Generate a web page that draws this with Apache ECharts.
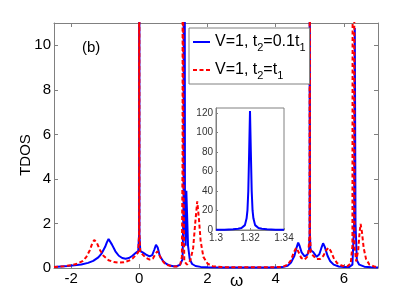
<!DOCTYPE html>
<html><head><meta charset="utf-8">
<script src="https://cdn.jsdelivr.net/npm/echarts@6/dist/echarts.min.js"></script>
<style>html,body{margin:0;padding:0;background:#fff}#c{width:417px;height:302px}</style>
</head><body><div id="c"></div>
<script>
// Main plot: blue solid (V=1, t2=0.1t1)
const blueX = [-2.5,-2.3,-2.1,-1.9,-1.7,-1.5,-1.35,-1.2,-1.1,-1.0,-0.95,-0.9,-0.85,-0.8,-0.7,-0.6,-0.5,-0.4,-0.3,-0.2,-0.1,-0.03,-0.005,0,0.005,0.03,0.1,0.2,0.3,0.38,0.44,0.49,0.54,0.6,0.7,0.8,0.9,1.0,1.1,1.2,1.27,1.3,1.315,1.32,1.325,1.34,1.36,1.38,1.4,1.43,1.48,1.55,1.65,1.8,2.0,2.5,3.0,3.5,4.0,4.2,4.35,4.45,4.55,4.62,4.66,4.7,4.76,4.85,4.93,4.98,4.995,5.0,5.005,5.02,5.1,5.2,5.28,5.34,5.39,5.44,5.52,5.6,5.7,5.85,6.0,6.15,6.25,6.3,6.32,6.34,6.38,6.45,6.6,6.8,7.0];
const blueY = [0.05,0.07,0.09,0.12,0.16,0.23,0.32,0.48,0.66,0.95,1.15,1.3,1.22,1.05,0.75,0.55,0.45,0.42,0.45,0.55,0.68,0.76,1.5,40,1.5,0.76,0.7,0.6,0.52,0.58,0.82,1.04,0.92,0.55,0.3,0.18,0.11,0.08,0.08,0.15,0.4,3,30,122,30,2,1.0,3.47,2.5,1.0,0.4,0.18,0.09,0.05,0.03,0.02,0.02,0.02,0.02,0.04,0.1,0.25,0.55,0.95,1.14,1.0,0.7,0.52,0.6,0.8,1.5,40,1.5,0.8,0.72,0.5,0.62,0.9,1.11,0.95,0.55,0.3,0.15,0.07,0.04,0.04,0.15,2,10.77,2,0.35,0.15,0.06,0.03,0.02];
// Main plot: red dashed (V=1, t2=t1)
const redX = [-2.5,-2.2,-2.0,-1.8,-1.65,-1.55,-1.45,-1.38,-1.32,-1.25,-1.15,-1.05,-0.9,-0.75,-0.6,-0.45,-0.3,-0.2,-0.1,-0.03,-0.005,0,0.005,0.03,0.1,0.2,0.3,0.4,0.48,0.53,0.58,0.65,0.75,0.85,1.0,1.1,1.2,1.25,1.27,1.28,1.29,1.32,1.4,1.5,1.58,1.64,1.7,1.75,1.8,1.88,2.0,2.15,2.4,3.0,3.5,4.0,4.2,4.35,4.45,4.53,4.6,4.66,4.75,4.85,4.95,4.995,5.0,5.005,5.03,5.1,5.2,5.3,5.4,5.48,5.55,5.62,5.7,5.8,5.95,6.1,6.2,6.25,6.28,6.31,6.36,6.42,6.46,6.49,6.53,6.58,6.65,6.75,6.9,7.0];
const redY = [0.04,0.08,0.12,0.2,0.32,0.5,0.8,1.1,1.26,1.15,0.8,0.55,0.35,0.27,0.24,0.26,0.33,0.42,0.58,0.7,1.5,40,1.5,0.7,0.6,0.45,0.38,0.42,0.65,0.75,0.62,0.38,0.2,0.12,0.07,0.07,0.15,0.5,5,60,5,0.3,0.15,0.35,0.9,2.0,2.99,2.2,1.2,0.5,0.2,0.08,0.04,0.03,0.03,0.04,0.05,0.15,0.35,0.7,0.9,0.75,0.45,0.38,0.55,1.5,40,1.5,0.7,0.55,0.4,0.4,0.55,0.8,0.91,0.75,0.45,0.22,0.1,0.08,0.2,1,60,1,0.3,0.8,1.6,1.98,1.6,0.9,0.4,0.15,0.06,0.04];
// Inset: blue peak near 1.32
const insetX = [1.300,1.305,1.310,1.313,1.315,1.316,1.317,1.318,1.3185,1.319,1.3195,1.32,1.3205,1.321,1.3215,1.322,1.323,1.324,1.325,1.327,1.330,1.335,1.340];
const insetY = [0.2,0.35,0.7,1.2,2,3,5,12,20,40,80,122,80,40,20,12,5,3,2,1.2,0.7,0.35,0.2];
// Tick labels
const xTicks = [-2,0,2,4,6];
const yTicks = [0,2,4,6,8,10];
const insetXTicks = [1.3,1.32,1.34];
const insetYTicks = [0,20,40,60,80,100,120];
const legendNames = ['V=1, t{s|2}=0.1t{s|1}', 'V=1, t{s|2}=t{s|1}'];

const zip = (a,b)=>a.map((v,i)=>[v,b[i]]);
const FONT = 'Liberation Sans';
const FRAME = '#808080';
const chart = echarts.init(document.getElementById('c'), null, {renderer:'canvas'});

function mainX(pos, show){
  return {type:'value', gridIndex:0, position:pos, min:-2.5, max:7,
    axisLine:{show:true, onZero:false, lineStyle:{color:FRAME, width:1}},
    axisTick:{show:true, inside:true, length:4, customValues:xTicks, lineStyle:{color:FRAME}},
    axisLabel:{show:show, customValues:xTicks, color:'#000', fontFamily:FONT, fontSize:15, margin:3},
    splitLine:{show:false}};
}
function mainY(pos, show){
  return {type:'value', gridIndex:0, position:pos, min:0, max:11,
    axisLine:{show:true, onZero:false, lineStyle:{color:FRAME, width:1}},
    axisTick:{show:true, inside:true, length:4, customValues:yTicks, lineStyle:{color:FRAME}},
    axisLabel:{show:show, customValues:yTicks, color:'#000', fontFamily:FONT, fontSize:15, margin:3},
    splitLine:{show:false}};
}

const option = {
  backgroundColor:'#fff',
  animation:false,
  grid:[
    {left:54, right:39, top:23, bottom:34, containLabel:false},
    {left:216, top:108, width:68, height:122, show:true, backgroundColor:'#fff', borderColor:FRAME, borderWidth:1, z:5}
  ],
  xAxis:[
    mainX('bottom', true),
    mainX('top', false),
    {type:'value', gridIndex:1, min:1.3, max:1.34, position:'bottom', z:6,
      axisLine:{show:true, onZero:false, lineStyle:{color:FRAME}},
      axisTick:{show:true, inside:true, length:2, customValues:insetXTicks, lineStyle:{color:FRAME}},
      axisLabel:{customValues:insetXTicks, color:'#333', fontFamily:FONT, fontSize:10, margin:3,
        formatter:v=>String(Math.round(v*100)/100)},
      splitLine:{show:false}}
  ],
  yAxis:[
    mainY('left', true),
    mainY('right', false),
    {type:'value', gridIndex:1, min:0, max:125, position:'left', z:6,
      axisLine:{show:true, onZero:false, lineStyle:{color:FRAME}},
      axisTick:{show:true, inside:true, length:2, customValues:insetYTicks, lineStyle:{color:FRAME}},
      axisLabel:{customValues:insetYTicks, color:'#333', fontFamily:FONT, fontSize:10, margin:3},
      splitLine:{show:false}}
  ],
  legend:{
    left:189, top:28, orient:'vertical', itemWidth:17, itemHeight:10, itemGap:6,
    padding:[3,4,3,3], borderColor:FRAME, borderWidth:1, backgroundColor:'#fff',
    itemStyle:{opacity:0},
    data:[{name:legendNames[0]},{name:legendNames[1]}],
    textStyle:{fontFamily:FONT, fontSize:16, color:'#000', lineHeight:22,
      rich:{s:{fontFamily:FONT, fontSize:11, lineHeight:10, verticalAlign:'bottom', color:'#000'}}}
  },
  series:[
    {name:legendNames[0], type:'line', xAxisIndex:0, yAxisIndex:0, data:zip(blueX,blueY), symbol:'none',
      lineStyle:{color:'#0000ff', width:2}, itemStyle:{color:'#0000ff'}, clip:true, z:2},
    {name:legendNames[1], type:'line', xAxisIndex:0, yAxisIndex:0, data:zip(redX,redY), symbol:'none',
      lineStyle:{color:'#ff0000', width:2, type:[4,2.5]}, itemStyle:{color:'#ff0000'}, clip:true, z:3},
    {name:'inset', type:'line', xAxisIndex:2, yAxisIndex:2, data:zip(insetX,insetY), symbol:'none',
      lineStyle:{color:'#0000ff', width:2}, clip:true, z:7}
  ],
  graphic:[
    {type:'text', left:82, top:40, style:{text:'(b)', font:'15px "Liberation Sans"', fill:'#000'}},
    {type:'text', left:230, top:273, style:{text:'ω', font:'17px "Liberation Sans"', fill:'#000'}},
    {type:'text', x:26, y:155, rotation:Math.PI/2, style:{text:'TDOS', font:'15px "Liberation Sans"', fill:'#000', align:'center', verticalAlign:'middle'}}
  ]
};
chart.setOption(option);
</script></body></html>
